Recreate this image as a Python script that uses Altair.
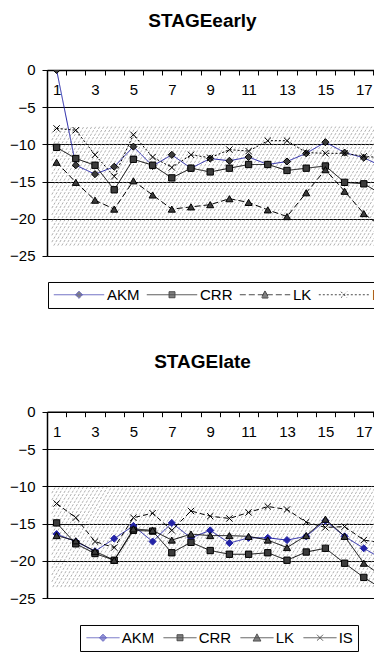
import altair as alt
import pandas as pd
import numpy as np

# ---------------- data ----------------
categories = list(range(1, 19))
series_names = ["AKM", "CRR", "LK", "IS"]

akm_early = [0, -12.8, -14.0, -13.0, -10.3, -12.9, -11.4, -13.2, -11.9, -12.2, -11.7, -12.7, -12.3, -11.2, -9.7, -11.1, -11.8, -13.0]
crr_early = [-10.4, -11.9, -12.8, -16.1, -12.0, -12.8, -14.5, -13.2, -13.7, -13.2, -12.7, -12.7, -13.5, -13.2, -12.9, -15.1, -15.3, -16.8]
lk_early = [-12.4, -15.1, -17.5, -18.7, -14.9, -16.8, -18.7, -18.4, -18.1, -17.3, -17.8, -18.8, -19.7, -16.5, -13.4, -16.3, -19.3, -21.2]
is_early = [-7.85, -8.1, -11.4, -14.3, -8.7, -11.7, -13.1, -11.4, -11.8, -10.7, -10.9, -9.5, -9.5, -11.1, -11.2, -11.2, -11.6, -11.8]

akm_late = [-16.4, -17.4, -18.7, -17.0, -15.3, -17.4, -14.9, -16.9, -15.9, -17.6, -16.9, -16.9, -17.2, -16.7, -14.6, -16.7, -18.3, -19.8]
crr_late = [-14.9, -17.7, -19.0, -19.9, -15.9, -16.0, -18.9, -17.5, -18.6, -19.1, -19.1, -18.9, -19.9, -18.8, -18.3, -20.3, -22.2, -23.8]
lk_late = [-16.6, -17.3, -18.7, -19.9, -15.7, -15.9, -17.2, -16.4, -16.6, -16.6, -16.7, -17.2, -18.2, -16.6, -14.4, -16.7, -20.3, -22.1]
is_late = [-12.3, -14.2, -17.4, -18.2, -14.2, -13.6, -15.9, -13.3, -14.0, -14.3, -13.5, -12.7, -13.1, -14.8, -15.5, -15.4, -17.2, -17.6]

y_ticks = [0, -5, -10, -15, -20, -25]
band_early = (-23.6, -7.6)
band_late = (-23.5, -10.0)

# ---------------- layout constants ----------------
W = 327            # visible plot width (plot runs off the right edge)
XPU = 19.2         # pixels per category
X_DOM = [0.5, 0.5 + W / XPU]
PANEL_H = 186.0
TOTAL_H = 528.3
EARLY_RANGE = [PANEL_H, 0]
LATE_RANGE = [TOTAL_H, TOTAL_H - 186.6]
YPU = PANEL_H / 25.0
FONT = "Liberation Sans"
BLUE = "#2323a6"
MK = "#3c3c3c"
X_PATH = "M-1,-1L1,1M-1,1L1,-1"


def hatch_df(y_lo, y_hi, x_lo, x_hi, step=4.0, slope=1.7):
    hp = (y_hi - y_lo) * YPU
    run = hp / slope
    x0p = (x_lo - X_DOM[0]) * XPU
    x1p = (x_hi - X_DOM[0]) * XPU
    rows = []
    c = x0p - run
    while c < x1p:
        bx, by = c, 0.0
        tx, ty = c + run, hp
        if bx < x0p:
            by = (x0p - c) * slope
            bx = x0p
        if tx > x1p:
            ty = (x1p - c) * slope
            tx = x1p
        rows.append({"x": X_DOM[0] + bx / XPU, "x2": X_DOM[0] + tx / XPU,
                     "y": y_lo + by / YPU, "y2": y_lo + ty / YPU})
        c += step
    return pd.DataFrame(rows)


def make_x_axis(offset, title, title_y):
    return alt.Axis(
        orient="bottom", offset=offset,
        values=[v + 0.5 for v in range(0, 18)],
        labelExpr="((datum.value + 0.5) % 2 == 1) ? format(datum.value + 0.5, 'd') : ''",
        labelOffset=XPU / 2, labelFlush=False, labelOverlap=False,
        tickSize=5, labelPadding=8, labelFontSize=15, labelFont=FONT, labelColor="black",
        domainColor="black", domainWidth=1.5, tickColor="black", tickWidth=1,
        grid=False, title=title, titleFont=FONT, titleFontSize=19, titleFontWeight="bold",
        titleColor="black", titleX=155, titleY=title_y, titleAlign="center",
        titleBaseline="alphabetic", titleAngle=0,
    )


def make_y_axis():
    return alt.Axis(
        orient="left", values=y_ticks, format="d", grid=True, gridColor="black", gridWidth=1,
        domainColor="black", domainWidth=1.5, tickColor="black", tickSize=5,
        labelPadding=7, labelFontSize=15, labelFont=FONT, labelColor="black", title=None,
    )


def leg(x, y, sym_offset, lab_offset, col_pad):
    return alt.Legend(
        title=None, orient="none", legendX=x, legendY=y, direction="horizontal", columns=4,
        strokeColor="black", fillColor="white", padding=5, cornerRadius=0,
        labelFontSize=15, labelFont=FONT, labelColor="black",
        symbolSize=144, symbolStrokeWidth=1, symbolOffset=sym_offset, labelOffset=lab_offset,
        columnPadding=col_pad, rowPadding=0,
    )


def paths_for(h):
    return [
        f"M-{h},0H{h}M0,-0.6L0.6,0L0,0.6L-0.6,0Z",
        f"M-{h},0H{h}M-0.5,-0.5H0.5V0.5H-0.5Z",
        f"M-{h},0H{h}M0,-0.65L0.65,0.55H-0.65Z",
        f"M-{h},0H{h}M-0.5,-0.5L0.5,0.5M-0.5,0.5L0.5,-0.5",
    ]


def panel(series, band, y_range, x_axis, legend, leg_paths, leg_strokes, leg_fills, leg_dashes):
    x_scale = alt.Scale(domain=X_DOM, nice=False, zero=False)
    y_scale = alt.Scale(domain=[-25, 0], range=y_range, nice=False, zero=False)
    y_axis = make_y_axis()
    enc = dict(x=alt.X("x:Q", scale=x_scale, axis=x_axis),
               y=alt.Y("y:Q", scale=y_scale, axis=y_axis))
    layers = []
    hd = hatch_df(band[0], band[1], 0.75, 18.6)
    layers.append(alt.Chart(hd).mark_rule(color="#9c9c9c", strokeWidth=0.8, strokeDash=[2.5, 1.5], clip=True)
                  .encode(x2="x2:Q", y2="y2:Q", **enc))
    for values, line_color, dash, shape, fill, stroke, size, filled in series:
        df = pd.DataFrame({"x": categories, "y": values})
        base = alt.Chart(df)
        layers.append(base.mark_line(color=line_color, strokeWidth=1, strokeDash=dash, clip=True).encode(**enc))
        if filled:
            layers.append(base.mark_point(shape=shape, filled=True, fill=fill, stroke=stroke, strokeWidth=1,
                                          size=size, opacity=1, clip=True).encode(**enc))
        else:
            layers.append(base.mark_point(shape=shape, filled=False, stroke=stroke, strokeWidth=1,
                                          size=size, opacity=1, clip=True).encode(**enc))
    ldf = pd.DataFrame({"series": series_names, "x": [np.nan] * 4, "y": [np.nan] * 4})
    layers.append(alt.Chart(ldf).mark_point(filled=False).encode(
        shape=alt.Shape("series:N", scale=alt.Scale(domain=series_names, range=leg_paths), legend=legend),
        stroke=alt.Stroke("series:N", scale=alt.Scale(domain=series_names, range=leg_strokes), legend=legend),
        fill=alt.Fill("series:N", scale=alt.Scale(domain=series_names, range=leg_fills), legend=legend),
        strokeDash=alt.StrokeDash("series:N", scale=alt.Scale(domain=series_names, range=leg_dashes), legend=legend),
        **enc,
    ))
    return alt.layer(*layers)


early_series = [
    (akm_early, BLUE, [1, 0], "diamond", MK, "black", 50, True),
    (crr_early, "black", [1, 0], "square", MK, "black", 40, True),
    (lk_early, "black", [6, 3], "triangle-up", MK, "black", 50, True),
    (is_early, "black", [2, 2], X_PATH, None, "black", 40, False),
]
late_series = [
    (akm_late, BLUE, [1, 0], "diamond", BLUE, BLUE, 50, True),
    (crr_late, "black", [1, 0], "square", MK, "black", 40, True),
    (lk_late, "black", [1, 0], "triangle-up", MK, "black", 50, True),
    (is_late, "black", [5, 3], X_PATH, None, "black", 40, False),
]

early = panel(early_series, band_early, EARLY_RANGE,
              make_x_axis(-TOTAL_H, "STAGEearly", -43.5),
              leg(1, 212, 18.5, 20.5, 4), paths_for(4.2),
              [BLUE, "black", "black", "black"], ["black", "black", "black", "transparent"],
              [[1, 0], [1, 0], [6, 3], [2, 2]])
late = panel(late_series, band_late, LATE_RANGE,
             make_x_axis(-186.6, "STAGElate", -44),
             leg(33, 555, 10.5, 11.2, 6), paths_for(2.75),
             [BLUE, "black", "black", "black"], [BLUE, "black", "black", "transparent"],
             [[1, 0], [1, 0], [1, 0], [1, 0]])

chart = alt.layer(early, late).resolve_scale(
    x="independent", y="independent",
    shape="independent", stroke="independent", fill="independent", strokeDash="independent",
).resolve_axis(x="independent", y="independent").resolve_legend(
    shape="independent", stroke="independent", fill="independent", strokeDash="independent",
).properties(
    width=W, height=TOTAL_H,
    autosize=alt.AutoSizeParams(type="none"),
    padding={"left": 39, "top": 62, "right": 0, "bottom": 55},
).configure_view(strokeWidth=0)

chart.save("out.html", embed_options={"renderer": "svg", "actions": False})
